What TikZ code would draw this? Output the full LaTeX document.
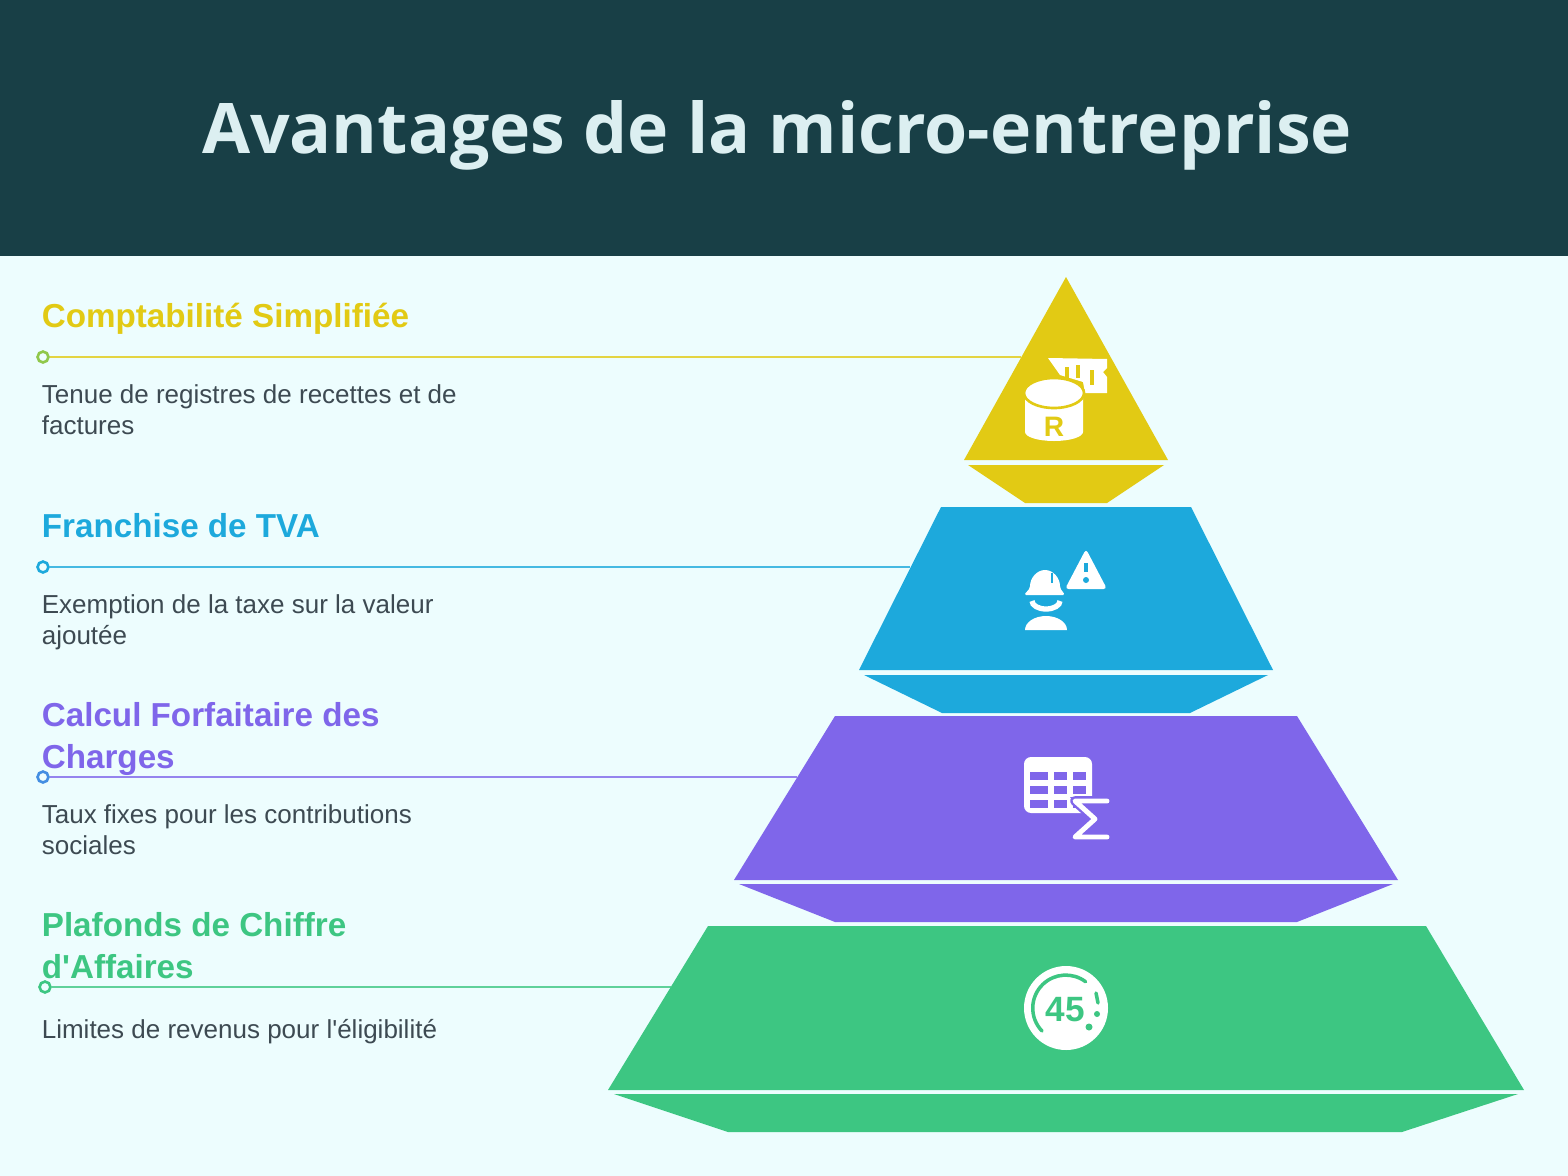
\documentclass[tikz,border=0pt]{standalone}
\usepackage{fontspec}
\newfontfamily\labelfont{Liberation Sans}
\newfontfamily\titlefont{Open Sans}
\definecolor{bandcol}{HTML}{183F46}
\definecolor{backcol}{HTML}{EDFDFE}
\definecolor{titlecol}{HTML}{DCEFF1}
\definecolor{yellowcol}{HTML}{E2CA14}
\definecolor{bluecol}{HTML}{1DA9DC}
\definecolor{violetcol}{HTML}{7F66EA}
\definecolor{greencol}{HTML}{3DC682}
\definecolor{bodycol}{HTML}{3D4A52}
\tikzset{
  headtext/.style={anchor=base west,inner sep=0pt,font=\labelfont\fontsize{18.9pt}{24pt}\selectfont\bfseries},
  bodytext/.style={anchor=base west,inner sep=0pt,text=bodycol,font=\labelfont\fontsize{14.8pt}{18pt}\selectfont},
  enddot/.style={circle,draw,fill=backcol,line width=1.5pt,minimum size=6.2pt,inner sep=0pt},
  leader/.style={line width=1.65pt,draw opacity=0.8},
}
\begin{document}
\begin{tikzpicture}[x=0.02cm,y=-0.02cm]
\useasboundingbox (0,0) rectangle (1568,1176);
\fill[backcol] (0,0) rectangle (1568,1176);
\fill[bandcol] (0,0) rectangle (1568,256);
\node[inner sep=0pt,text=titlecol,font=\titlefont\fontsize{39.7pt}{44pt}\selectfont\bfseries] (title) at (777,135) {Avantages de la micro-entreprise};
% tiers
\fill[yellowcol] (1066,277) -- (1168,460) -- (964,460) -- cycle;
\fill[yellowcol] (968,465) -- (1164,465) -- (1107,503) -- (1025,503) -- cycle;
\fill[bluecol] (941,507) -- (1191,507) -- (1273,670) -- (859,670) -- cycle;
\fill[bluecol] (864,675) -- (1268,675) -- (1190,713) -- (942,713) -- cycle;
\fill[violetcol] (835,716) -- (1297,716) -- (1398,880) -- (734,880) -- cycle;
\fill[violetcol] (739,884) -- (1393,884) -- (1297,922) -- (835,922) -- cycle;
\fill[greencol] (708,926) -- (1426,926) -- (1524,1090) -- (608,1090) -- cycle;
\fill[greencol] (614,1094) -- (1518,1094) -- (1402,1132) -- (728,1132) -- cycle;
% leaders
\coordinate (endA) at (1021,357);
\coordinate (endB) at (910,567);
\coordinate (endC) at (797,777);
\coordinate (endD) at (671,987);
\node[enddot,draw=greencol!50!yellowcol] (dotA) at (43,357) {};
\node[enddot,draw=bluecol] (dotB) at (43,567) {};
\node[enddot,draw=bluecol!60!violetcol] (dotC) at (43,777) {};
\node[enddot,draw=greencol] (dotD) at (45,987) {};
\draw[leader,yellowcol] (dotA) -- (endA);
\draw[leader,bluecol] (dotB) -- (endB);
\draw[leader,violetcol] (dotC) -- (endC);
\draw[leader,greencol] (dotD) -- (endD);
% texts
\node[headtext,text=yellowcol] (headA) at (41.5,327) {Comptabilité Simplifiée};
\node[bodytext] (bodyA1) at (41.5,403) {Tenue de registres de recettes et de};
\node[bodytext] (bodyA2) at (41.5,434) {factures};
\node[headtext,text=bluecol] (headB) at (41.5,537) {Franchise de TVA};
\node[bodytext] (bodyB1) at (41.5,613) {Exemption de la taxe sur la valeur};
\node[bodytext] (bodyB2) at (41.5,644) {ajoutée};
\node[headtext,text=violetcol] (headC1) at (41.5,726) {Calcul Forfaitaire des};
\node[headtext,text=violetcol] (headC2) at (41.5,768) {Charges};
\node[bodytext] (bodyC1) at (41.5,823) {Taux fixes pour les contributions};
\node[bodytext] (bodyC2) at (41.5,854) {sociales};
\node[headtext,text=greencol] (headD1) at (41.5,936) {Plafonds de Chiffre};
\node[headtext,text=greencol] (headD2) at (41.5,978) {d'Affaires};
\node[bodytext] (bodyD1) at (41.5,1038) {Limites de revenus pour l'éligibilité};
% icon: register and drum
\fill[white] (1048,358) -- (1107,359) -- (1107,368) -- (1103,372) -- (1107,377) -- (1107,393) -- (1085,393) -- (1083,382) -- (1060,375) -- cycle;
\fill[yellowcol] (1065,367) rectangle (1069,378);
\fill[yellowcol] (1076,365) rectangle (1080,378);
\fill[yellowcol] (1090,370) rectangle (1094,385);
\fill[white] (1025,398) -- (1025,432) arc[start angle=180,end angle=0,x radius=29,y radius=9] -- (1083,398) -- cycle;
\draw[yellowcol,line width=1.5pt,fill=white] (1054,393) ellipse[x radius=30,y radius=15];
\node[inner sep=0pt,text=yellowcol,font=\labelfont\fontsize{16pt}{16pt}\selectfont\bfseries] (iconR) at (1054,427) {R};
% icon: worker and warning
\fill[white,rounded corners=2pt] (1086,549) -- (1107,589) -- (1065,589) -- cycle;
\fill[bluecol] (1084,563) rectangle (1088,572);
\fill[bluecol] (1086,580) circle[radius=3];
\fill[white,rounded corners=1pt] (1024,595) -- (1030,588) arc[start angle=180,end angle=360,x radius=15,y radius=18] -- (1065,595) -- cycle;
\draw[bluecol,line width=1pt] (1052,573) -- (1052,583);
\draw[white,line width=3pt] (1032,601) arc[start angle=180,end angle=0,x radius=14,y radius=8];
\fill[white] (1025,630) arc[start angle=180,end angle=360,x radius=21,y radius=14] -- cycle;
% icon: table and sigma
\fill[white,rounded corners=4pt] (1024,757) rectangle (1092,813);
\foreach \rowy in {772,786,800}
  \foreach \colx/\colw in {1030/18,1054/13,1073/13}
    \fill[violetcol] (\colx,\rowy) rectangle +(\colw,8);
\fill[violetcol] (1070,797) -- (1094,797) -- (1094,815) -- (1084,815) -- cycle;
\draw[violetcol,line width=5.5pt,line join=round] (1107,801) -- (1075,801) -- (1095,819) -- (1075,837) -- (1107,837);
\draw[white,line width=2.8pt,line cap=round,line join=round] (1107,801) -- (1075,801) -- (1095,819) -- (1075,837) -- (1107,837);
% icon: countdown disc
\fill[white] (1066,1008) circle[radius=42];
\draw[greencol,line width=2pt,line cap=round] (1042,1031) arc[start angle=136,end angle=307,radius=33];
\draw[greencol,line width=2pt,line cap=round] (1096,993) -- (1098,1003);
\fill[greencol] (1097,1014) circle[radius=3];
\fill[greencol] (1089,1027) circle[radius=3.5];
\node[inner sep=0pt,text=greencol,font=\labelfont\fontsize{20pt}{20pt}\selectfont\bfseries] (iconNum) at (1065,1010) {45};
\end{tikzpicture}
\end{document}
